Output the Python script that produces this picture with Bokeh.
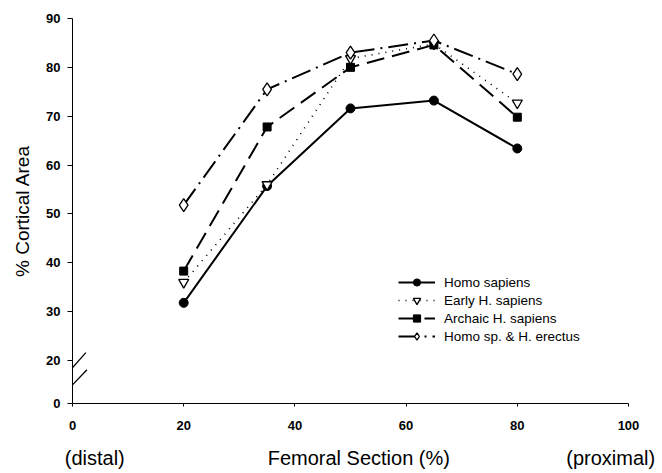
from bokeh.plotting import figure
from bokeh.models import FixedTicker, Legend, LegendItem, Arrow, Range1d, LinearAxis
from bokeh.embed import file_html
from bokeh.resources import INLINE

# ---- data ----
sections = [20, 35, 50, 65, 80]
homo_sapiens = [31.8, 55.7, 71.6, 73.2, 63.4]
early_h_sapiens = [36.0, 56.0, 81.8, 84.8, 72.7]
archaic_h_sapiens = [38.3, 67.8, 80.0, 84.6, 69.8]
homo_sp_erectus = [51.8, 75.5, 83.0, 85.5, 78.6]

series_names = ["Homo sapiens", "Early H. sapiens", "Archaic H. sapiens", "Homo sp. & H. erectus"]

x_ticks = [0, 20, 40, 60, 80, 100]
y_ticks = [20, 30, 40, 50, 60, 70, 80, 90]
y_break_zero_label = "0"
x_title_labels = ["(distal)", "Femoral Section (%)", "(proximal)"]

# broken axis: the value 0 is drawn just below the break, under 20
Y_ZERO_POS = 11.2
# where the three x-axis title pieces are centred (x data units)
X_TITLE_POS = [4.0, 51.5, 96.8]

FONT = "Liberation Sans"

p = figure(width=662, height=473, output_backend="svg", toolbar_location=None,
           x_range=Range1d(0, 100), y_range=Range1d(Y_ZERO_POS, 90),
           min_border_left=72, min_border_right=34, min_border_top=18, min_border_bottom=70)
p.outline_line_color = None
p.grid.visible = False
p.background_fill_color = "white"

# axes
p.xaxis.ticker = FixedTicker(ticks=x_ticks)
p.yaxis.ticker = FixedTicker(ticks=[Y_ZERO_POS] + y_ticks)
p.yaxis.major_label_overrides = {Y_ZERO_POS: y_break_zero_label}
for ax in (p.xaxis, p.yaxis):
    ax.axis_line_color = "black"
    ax.axis_line_width = 1
    ax.major_tick_line_color = "black"
    ax.minor_tick_line_color = None
    ax.major_label_text_font = FONT
    ax.major_label_text_font_style = "bold"
    ax.major_label_text_font_size = "13px"
    ax.major_label_text_color = "black"
    ax.axis_label_text_font = FONT
    ax.axis_label_text_font_style = "normal"
    ax.axis_label_text_color = "black"
p.xaxis.major_tick_in = 0
p.xaxis.major_tick_out = 3
p.xaxis.major_label_standoff = 14
p.yaxis.major_tick_in = 0
p.yaxis.major_tick_out = 5
p.yaxis.major_label_standoff = 7
p.yaxis.axis_label = "% Cortical Area"
p.yaxis.axis_label_text_font_size = "19px"
p.yaxis.axis_label_standoff = 10

# second, label-only axis carrying the x title pieces
title_axis = LinearAxis(ticker=FixedTicker(ticks=X_TITLE_POS),
                        major_label_overrides={X_TITLE_POS[i]: x_title_labels[i] for i in range(3)})
title_axis.axis_line_color = None
title_axis.major_tick_line_color = None
title_axis.minor_tick_line_color = None
title_axis.major_label_text_font = FONT
title_axis.major_label_text_font_size = "20px"
title_axis.major_label_text_color = "black"
title_axis.major_label_standoff = 8
p.add_layout(title_axis, "below")

# series
r1 = p.line(sections, homo_sapiens, line_color="black", line_width=2)
m1 = p.scatter(sections, homo_sapiens, marker="circle", size=9, fill_color="black", line_color="black")

r2 = p.line(sections, early_h_sapiens, line_color="black", line_width=1.6, line_dash="1 6")
m2 = p.scatter(sections, early_h_sapiens, marker="inverted_triangle", size=10, fill_color="white",
               line_color="black", line_width=1.3)

r3 = p.line(sections, archaic_h_sapiens, line_color="black", line_width=2, line_dash="18 8")
m3 = p.scatter(sections, archaic_h_sapiens, marker="square", size=8, fill_color="black", line_color="black")

r4 = p.line(sections, homo_sp_erectus, line_color="black", line_width=2, line_dash="20 6 2 6")
m4 = p.scatter(sections, homo_sp_erectus, marker="diamond", size=13, fill_color="white",
               line_color="black", line_width=1.3)

legend = Legend(items=[
    LegendItem(label=series_names[0], renderers=[r1, m1]),
    LegendItem(label=series_names[1], renderers=[r2, m2]),
    LegendItem(label=series_names[2], renderers=[r3, m3]),
    LegendItem(label=series_names[3], renderers=[r4, m4]),
], location=(326, 58), orientation="vertical")
legend.glyph_width = 37
legend.glyph_height = 18
legend.label_height = 18
legend.spacing = 0
legend.padding = 0
legend.margin = 0
legend.label_standoff = 9
legend.border_line_alpha = 0
legend.background_fill_alpha = 0
legend.label_text_font = FONT
legend.label_text_font_size = "13.5px"
legend.label_text_color = "black"
p.add_layout(legend, "center")

# axis break marks (//) on the y axis
for (x0, y0, x1, y1) in [(-1.5, 16.6, 2.4, 21.6), (-1.2, 13.6, 2.6, 18.1)]:
    p.add_layout(Arrow(end=None, x_start=x0, y_start=y0, x_end=x1, y_end=y1,
                       line_color="black", line_width=1.3))

open("out.html", "w").write(file_html(p, INLINE))
